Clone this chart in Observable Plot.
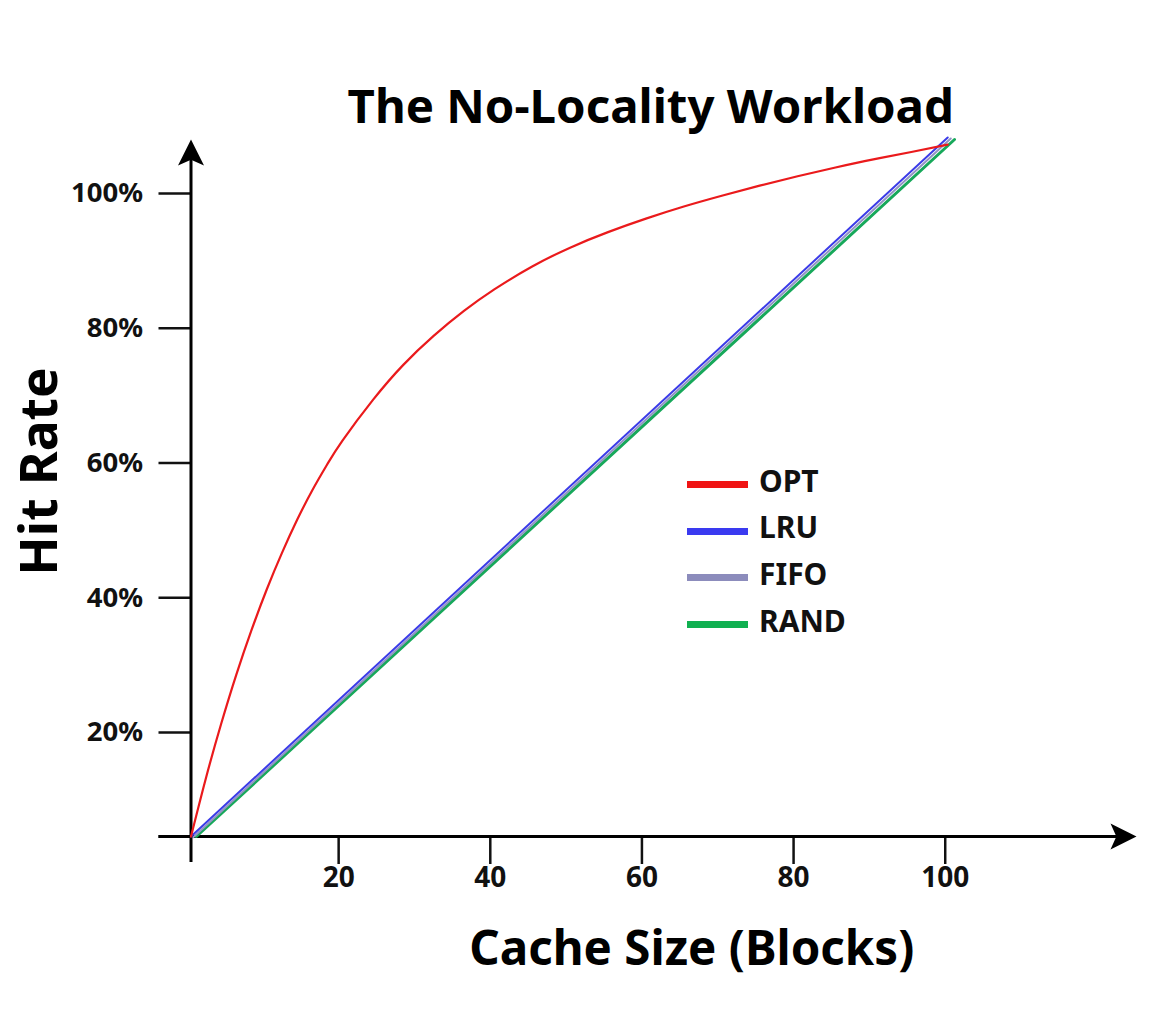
<!DOCTYPE html>
<html>
<head>
<meta charset="utf-8">
<script src="https://cdn.jsdelivr.net/npm/d3@7"></script>
<script src="https://cdn.jsdelivr.net/npm/@observablehq/plot@0.6"></script>
<style>
  html, body { margin: 0; padding: 0; background: #fff; }
  #wrap { position: relative; width: 1173px; height: 1031px; overflow: hidden; font-family: "Noto Sans", sans-serif; }
  #wrap svg text { font-weight: 700; }
  .leg { position: absolute; left: 687px; height: 40px; display: flex; align-items: center; font-weight: 700; font-size: 30px; color: #111; }
  .sw { width: 61px; height: 7px; margin-right: 11px; margin-top: 9px; }
</style>
</head>
<body>
<div id="wrap"></div>
<script>
// ---- data ----
const titleText = "The No-Locality Workload";
const xLabel = "Cache Size (Blocks)";
const yLabel = "Hit Rate";
const xTicks = [20, 40, 60, 80, 100];
const yTicks = [20, 40, 60, 80, 100];

const seriesNames = ["OPT", "LRU", "FIFO", "RAND"];
const seriesColors = ["#ea1a1c", "#3b3be8", "#9393c4", "#17a85a"];
const legendColors = ["#f01414", "#3a3af0", "#8c8cbc", "#10b050"];

const optX = [0, 2, 4, 6, 8, 10, 12, 14, 16, 18, 20, 24, 28, 32, 36, 40, 45, 50, 55, 60, 65, 70, 75, 80, 85, 90, 95, 99.8];
const optY = [5.6, 14.4, 22.4, 29.7, 36.3, 42.3, 47.7, 52.6, 57.0, 60.9, 64.4, 70.4, 75.6, 79.9, 83.6, 86.8, 90.2, 93.0, 95.3, 97.3, 99.1, 100.7, 102.2, 103.6, 104.9, 106.1, 107.2, 108.3];
const lruX = [0, 99.8];
const lruY = [5.6, 109.35];
const fifoX = [0.3, 100.2];
const fifoY = [5.5, 109.2];
const randX = [0.7, 100.7];
const randY = [5.6, 109.05];

// axis extents (data units)
const xAxisFrom = -4.25, xAxisTo = 124.7, xAxisY = 5.6;
const yAxisFrom = 1.74, yAxisTo = 109.05;

// ---- build ----
const mk = (name, xs, ys) => xs.map((x, i) => ({series: name, x, y: ys[i]}));
const opt = mk("OPT", optX, optY);
const lru = mk("LRU", lruX, lruY);
const fifo = mk("FIFO", fifoX, fifoY);
const rand = mk("RAND", randX, randY);
const col = Object.fromEntries(seriesNames.map((n, i) => [n, seriesColors[i]]));

// stealth arrowhead symbol, tip at the anchor point, pointing up
const stealth = {
  draw(ctx, size) {
    const r = Math.sqrt(size / Math.PI);
    const L = r * 2, W = r, N = r * 1.55;
    ctx.moveTo(0, 0);
    ctx.lineTo(W, L);
    ctx.lineTo(0, N);
    ctx.lineTo(-W, L);
    ctx.closePath();
  }
};

const chart = Plot.plot({
  width: 1173,
  height: 1031,
  marginLeft: 190.5,
  marginRight: 37,
  marginTop: 139,
  marginBottom: 195,
  style: {fontFamily: "Noto Sans", fontSize: "27px", color: "#111", background: "#fff"},
  x: {domain: [0, xAxisTo], label: null},
  y: {domain: [xAxisY, yAxisTo], label: null},
  marks: [
    Plot.axisX({ticks: xTicks, tickSize: 28, tickPadding: 3, strokeWidth: 2.5, fontSize: 28, fontWeight: 700, dx: -4, label: null, tickFormat: d => String(d)}),
    Plot.axisY({ticks: yTicks, tickSize: 32, tickPadding: 16, strokeWidth: 2.5, fontSize: 27.5, fontWeight: 700, dy: -7, label: null, tickFormat: d => d + "%"}),
    // axes lines
    Plot.ruleY([xAxisY], {x1: xAxisFrom, x2: xAxisTo - 2, stroke: "#000", strokeWidth: 3}),
    Plot.ruleX([0], {y1: yAxisFrom, y2: yAxisTo - 2, stroke: "#000", strokeWidth: 3}),
    Plot.dot([{x: xAxisTo, y: xAxisY}], {x: "x", y: "y", symbol: stealth, r: 13, fill: "#000", stroke: null, rotate: 90}),
    Plot.dot([{x: 0, y: yAxisTo}], {x: "x", y: "y", symbol: stealth, r: 13, fill: "#000", stroke: null, rotate: 0}),
    // series
    Plot.line(rand, {x: "x", y: "y", stroke: col.RAND, strokeWidth: 3}),
    Plot.line(fifo, {x: "x", y: "y", stroke: col.FIFO, strokeWidth: 2}),
    Plot.line(lru, {x: "x", y: "y", stroke: col.LRU, strokeWidth: 2}),
    Plot.line(opt, {x: "x", y: "y", stroke: col.OPT, strokeWidth: 2.2, curve: "natural"}),
    // title and axis labels
    Plot.text([titleText], {frameAnchor: "top", text: d => d, textAnchor: "middle", dx: -13, dy: -31.5, lineAnchor: "middle", fontSize: 47.4, fontWeight: 700, fill: "#000"}),
    Plot.text([xLabel], {frameAnchor: "bottom", text: d => d, textAnchor: "middle", dx: 28, dy: 113, lineAnchor: "middle", fontSize: 47.5, fontWeight: 700, fill: "#000"}),
    Plot.text([yLabel], {frameAnchor: "left", text: d => d, textAnchor: "middle", dx: -150.5, dy: -16.5, rotate: -90, lineAnchor: "middle", fontSize: 51.5, fontWeight: 700, fill: "#000"})
  ]
});

const wrap = document.getElementById("wrap");
wrap.appendChild(chart);

// legend
const legendTop = 460;
const legendStep = 46.7;
seriesNames.forEach((name, i) => {
  const row = document.createElement("div");
  row.className = "leg";
  row.style.top = (legendTop + i * legendStep) + "px";
  const sw = document.createElement("div");
  sw.className = "sw";
  sw.style.background = legendColors[i];
  const tx = document.createElement("span");
  tx.textContent = name;
  row.appendChild(sw);
  row.appendChild(tx);
  wrap.appendChild(row);
});
</script>
</body>
</html>
